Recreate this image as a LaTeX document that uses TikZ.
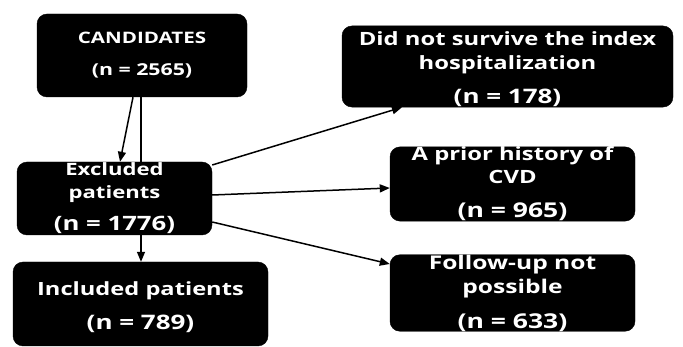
\documentclass[tikz,border=0pt]{standalone}
\usepackage{fontspec}
\newfontfamily\boxfont{Open Sans}[FakeStretch=1.3]
\usetikzlibrary{arrows.meta}
\newcommand\fsz[2]{\fontsize{#1}{#2}\selectfont}
\tikzset{
  box/.style={draw=black, fill=black, rounded corners=10pt, text=white, align=center, inner sep=0pt},
  conn/.style={line width=1.5pt, draw=black},
  arr/.style={conn, -{Triangle[length=10pt,width=8pt]}}
}
\begin{document}
\begin{tikzpicture}[x=1pt,y=-1pt]
\useasboundingbox (0,0) rectangle (683,347);
\node[box, minimum width=210pt, minimum height=83pt, font=\boxfont\bfseries\fsz{15.8}{32}] (cand) at (142,55.5)
  {CANDIDATES\\\fsz{16.4}{32}(n = 2565)};
\node[box, minimum width=195pt, minimum height=73pt, font=\boxfont\bfseries\fsz{17}{23}] (excl) at (114.5,198.5)
  {Excluded\\patients\\[9pt]\fsz{19.8}{23}(n = 1776)};
\node[box, minimum width=255pt, minimum height=84pt, font=\boxfont\bfseries\fsz{18.2}{34}] (incl) at (140.5,304)
  {\rule{0pt}{20pt}Included patients\\\fsz{20}{34}(n = 789)};
\node[box, minimum width=331pt, minimum height=75pt, font=\boxfont\bfseries\fsz{18.3}{24}] (die) at (507.5,66.5)
  {\rule{0pt}{20pt}Did not survive the index\\hospitalization\\[10pt]\fsz{20}{24}(n = 178)};
\node[box, minimum width=245pt, minimum height=74pt, font=\boxfont\bfseries\fsz{18.3}{23}] (cvd) at (512.5,184)
  {A prior history of\\CVD\\[11pt]\fsz{20.4}{23}(n = 965)};
\node[box, minimum width=245pt, minimum height=74pt, font=\boxfont\bfseries\fsz{18.9}{24}] (fu) at (512.5,293)
  {Follow-up not\\possible\\[11pt]\fsz{20.4}{24}(n = 633)};
\draw[arr] ([xshift=-9pt]cand.south) -- ([xshift=5.5pt]excl.north);
\draw[conn] ([xshift=-1pt]cand.south) -- ([xshift=26.5pt]excl.north);
\draw[arr] ([xshift=26.5pt]excl.south) -- ([xshift=0.5pt]incl.north);
\draw[arr] ([yshift=33.5pt]excl.east) -- ([xshift=-105.5pt]die.south);
\draw[arr] ([yshift=3.5pt]excl.east) -- ([yshift=-4pt]cvd.west);
\draw[arr] ([yshift=-23.5pt]excl.east) -- ([yshift=29pt]fu.west);
\end{tikzpicture}
\end{document}
